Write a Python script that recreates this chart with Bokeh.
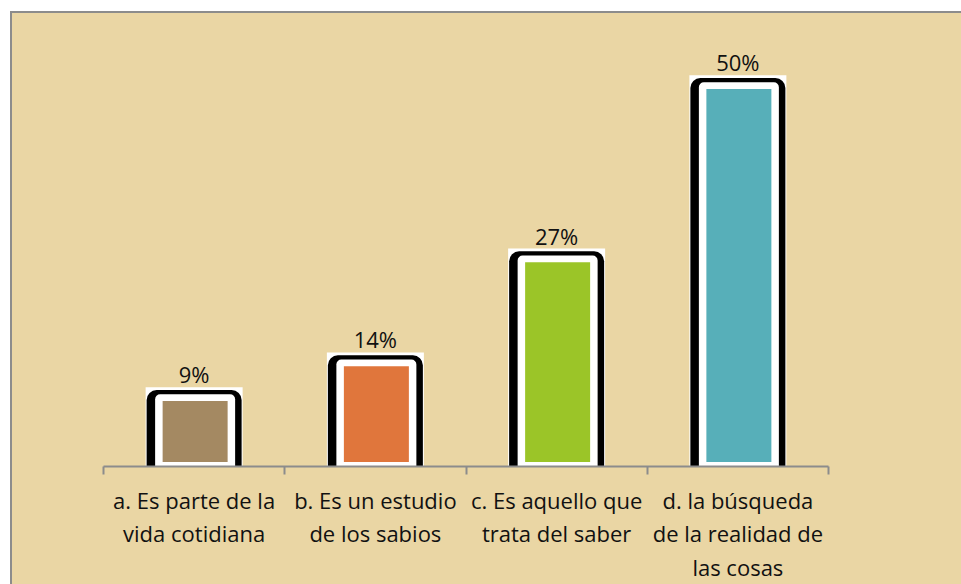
from bokeh.plotting import figure
from bokeh.models import Range1d, FixedTicker, ColumnDataSource
from bokeh.core.properties import value
from bokeh.embed import file_html
from bokeh.resources import INLINE

# ---- data ----
categories = [
    "a. Es parte de la\nvida cotidiana",
    "b. Es un estudio\nde los sabios",
    "c. Es aquello que\ntrata del saber",
    "d. la búsqueda\nde la realidad de\nlas cosas",
]
percent = [9.09, 13.64, 27.27, 50.0]
bar_colors = ["#A48962", "#E0763C", "#9BC528", "#57AFB9"]
value_labels = [f"{round(v)}%" for v in percent]

# ---- styling constants ----
W, H = 961, 584
FRAME_TOP, FRAME_BOTTOM, FRAME_LEFT, FRAME_RIGHT = 20, 118, 103, 133
frame_h = H - FRAME_TOP - FRAME_BOTTOM
frame_w = W - FRAME_LEFT - FRAME_RIGHT
PX_Y = 7.626                       # pixels per percent
Y_END = frame_h / PX_Y
PX_X = frame_w / len(categories)   # pixels per category
BG = "#EAD6A4"
EDGE = "#8C8C8C"
FONT = "Open Sans"

p = figure(width=W, height=H, output_backend="svg", toolbar_location=None,
           x_range=Range1d(0, len(categories)), y_range=Range1d(0, Y_END),
           min_border_top=FRAME_TOP, min_border_bottom=FRAME_BOTTOM,
           min_border_left=FRAME_LEFT, min_border_right=FRAME_RIGHT)
p.background_fill_color = None
p.border_fill_color = None
p.outline_line_color = None
p.styles = {
    "background": (
        f"linear-gradient({EDGE},{EDGE}) 10px 11px / 2px 100% no-repeat, "
        f"linear-gradient({EDGE},{EDGE}) 10px 11px / 100% 2px no-repeat, "
        "linear-gradient(#ffffff,#ffffff) 0 0 / 100% 11px no-repeat, "
        "linear-gradient(#ffffff,#ffffff) 0 0 / 10px 100% no-repeat, "
        f"{BG}"
    )
}
p.grid.visible = False
p.yaxis.visible = False

xs = [i + 0.5 for i in range(len(categories))]
src = ColumnDataSource(dict(
    x=xs, v=percent, color=bar_colors, label=value_labels,
    x_in=[x + 1 / PX_X for x in xs],
    box_top=[v + 10 / PX_Y for v in percent],
    black_top=[v + 7.2 / PX_Y for v in percent],
    inner_top=[v + 3 / PX_Y for v in percent],
    fill_top=[v - 3.7 / PX_Y for v in percent],
    label_y=[v + 8 / PX_Y for v in percent],
))

p.vbar(x="x", top="box_top", bottom=0, width=97 / PX_X, source=src,
       fill_color="white", line_color=None)
p.vbar(x="x", top="black_top", bottom=0, width=95 / PX_X, source=src,
       fill_color="black", line_color=None, border_radius=(10, 10, 0, 0))
p.vbar(x="x_in", top="inner_top", bottom=0, width=80 / PX_X, source=src,
       fill_color="white", line_color=None, border_radius=(5, 5, 0, 0))
p.vbar(x="x_in", top="fill_top", bottom=4.5 / PX_Y, width=65 / PX_X, source=src,
       fill_color="color", line_color=None)

lbl = p.text(x="x", y="label_y", text="label", source=src,
             text_font=value(FONT), text_font_size="22px", text_color="#111111",
             text_align="center", text_baseline="bottom")
lbl.level = "overlay"

ax = p.xaxis[0]
ax.ticker = FixedTicker(ticks=xs, minor_ticks=list(range(len(categories) + 1)))
ax.major_label_overrides = {x: c for x, c in zip(xs, categories)}
ax.major_tick_line_color = None
ax.major_tick_out = 0
ax.major_tick_in = 0
ax.minor_tick_line_color = EDGE
ax.minor_tick_line_width = 2
ax.minor_tick_out = 8
ax.minor_tick_in = 0
ax.axis_line_color = EDGE
ax.axis_line_width = 2
ax.major_label_text_font = FONT
ax.major_label_text_font_size = "22px"
ax.major_label_text_color = "#111111"
ax.major_label_text_line_height = 1.12
ax.major_label_standoff = 10
ax.major_label_orientation = "horizontal"

open("out.html", "w").write(file_html(p, INLINE))
